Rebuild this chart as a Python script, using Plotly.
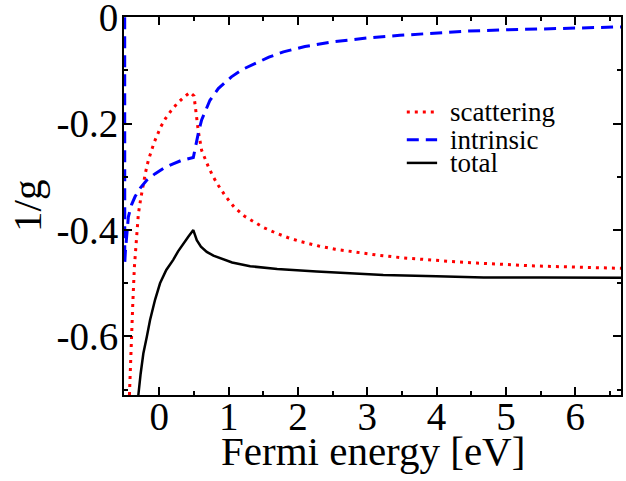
import plotly.graph_objects as go

# ---- data ----
x_scat = [-0.44, -0.433, -0.408, -0.384, -0.36, -0.326, -0.303, -0.27, -0.24, -0.20, -0.159,
          -0.077, 0.02, 0.09, 0.165, 0.25, 0.346, 0.443, 0.50, 0.53, 0.563, 0.61, 0.66, 0.71,
          0.77, 0.83, 0.958, 1.08, 1.23, 1.35, 1.5, 1.69, 1.85, 2.05, 2.3, 2.535, 2.8, 3.14,
          3.5, 3.86, 4.2, 4.58, 5.0, 5.35, 5.7, 6.12, 6.7]
y_scat = [-0.74, -0.71, -0.625, -0.541, -0.469, -0.403, -0.37, -0.342, -0.319, -0.292, -0.269,
          -0.236, -0.206, -0.19, -0.1765, -0.163, -0.151, -0.141, -0.148, -0.182, -0.215, -0.25,
          -0.267, -0.282, -0.298, -0.312, -0.337, -0.357, -0.374, -0.384, -0.395, -0.406, -0.414,
          -0.422, -0.43, -0.436, -0.441, -0.447, -0.452, -0.456, -0.459, -0.462, -0.465, -0.467,
          -0.4685, -0.470, -0.472]

x_intr = [-0.5, -0.499, -0.49, -0.47, -0.447, -0.40, -0.35, -0.27, -0.18, -0.06, 0.058, 0.19,
          0.32, 0.49, 0.53, 0.57, 0.61, 0.67, 0.73, 0.85, 0.95, 1.04, 1.2, 1.376, 1.58, 1.79,
          2.1, 2.51, 3.0, 3.47, 3.95, 4.44, 4.9, 5.40, 6.0, 6.7]
y_intr = [0.0, -0.462, -0.44, -0.41, -0.375, -0.352, -0.337, -0.32, -0.306, -0.294, -0.284,
          -0.276, -0.269, -0.2635, -0.237, -0.213, -0.193, -0.173, -0.156, -0.134, -0.122,
          -0.112, -0.098, -0.087, -0.075, -0.065, -0.055, -0.046, -0.039, -0.034, -0.03, -0.026,
          -0.024, -0.0225, -0.02, -0.018]

x_tot = [-0.31, -0.303, -0.27, -0.231, -0.18, -0.134, -0.062, 0.01, 0.10, 0.20, 0.27, 0.346,
         0.42, 0.49, 0.51, 0.54, 0.6, 0.684, 0.78, 0.876, 1.05, 1.31, 1.7, 2.27, 2.8, 3.23,
         4.0, 4.68, 5.5, 6.7]
y_tot = [-0.73, -0.71, -0.67, -0.632, -0.60, -0.569, -0.531, -0.500, -0.475, -0.456, -0.44,
         -0.425, -0.412, -0.400, -0.408, -0.419, -0.431, -0.441, -0.448, -0.453, -0.461, -0.468,
         -0.473, -0.478, -0.482, -0.4845, -0.487, -0.489, -0.4893, -0.4895]

series_names = ["scattering", "intrinsic", "total"]
x_ticks = [0, 1, 2, 3, 4, 5, 6]
y_ticks = [0, -0.2, -0.4, -0.6]
y_ticklabels = ["0", "-0.2", "-0.4", "-0.6"]

FONT = "Liberation Serif"
styles = [
    dict(color="#ff0000", width=3, dash="3px,5px"),
    dict(color="#0000ff", width=3, dash="12px,7px"),
    dict(color="#000000", width=2.5, dash="solid"),
]

fig = go.Figure()
for xs, ys, name, st in zip([x_scat, x_intr, x_tot], [y_scat, y_intr, y_tot], series_names, styles):
    fig.add_trace(go.Scatter(x=xs, y=ys, mode="lines", name=name, line=st,
                             showlegend=False, cliponaxis=True))

# manual legend (compact rows like the reference)
leg_y = [0.749, 0.675, 0.614]
for name, st, yy in zip(series_names, styles, leg_y):
    fig.add_shape(type="line", xref="paper", yref="paper", x0=0.569, x1=0.630, y0=yy, y1=yy,
                  line=st)
    fig.add_annotation(xref="paper", yref="paper", x=0.652, y=yy, text=name, showarrow=False,
                       xanchor="left", yanchor="middle", font=dict(family=FONT, size=27, color="black"))

# axis titles
fig.add_annotation(xref="paper", yref="paper", x=0.5, y=0, yshift=-56, text="Fermi energy [eV]",
                   showarrow=False, xanchor="center", yanchor="middle",
                   font=dict(family=FONT, size=41, color="black"))
fig.add_annotation(xref="paper", yref="paper", x=0, y=0.5, xshift=-97, text="1/g", textangle=-90,
                   showarrow=False, xanchor="center", yanchor="middle",
                   font=dict(family=FONT, size=41, color="black"))

axis_common = dict(showline=True, linecolor="black", linewidth=2, mirror="allticks",
                   ticks="inside", ticklen=8, tickwidth=2, tickcolor="black",
                   showgrid=False, zeroline=False, ticklabeloverflow="allow",
                   tickfont=dict(family=FONT, size=39, color="black"))

fig.update_xaxes(range=[-0.51, 6.66], tickvals=x_ticks, ticklabelstandoff=-14,
                 minor=dict(dtick=0.5, tick0=0, ticks="inside", ticklen=4, tickwidth=2, tickcolor="black"),
                 **axis_common)
fig.update_yaxes(range=[-0.71, 0.0005], tickvals=y_ticks, ticktext=y_ticklabels, ticklabelstandoff=-4,
                 minor=dict(dtick=0.1, tick0=0, ticks="inside", ticklen=4, tickwidth=2, tickcolor="black"),
                 **axis_common)

fig.update_layout(width=626, height=481, margin=dict(l=124, r=5, t=17, b=86, autoexpand=False),
                  font=dict(family=FONT, color="black"),
                  paper_bgcolor="white", plot_bgcolor="white", showlegend=False)

fig.write_html("out.html")
